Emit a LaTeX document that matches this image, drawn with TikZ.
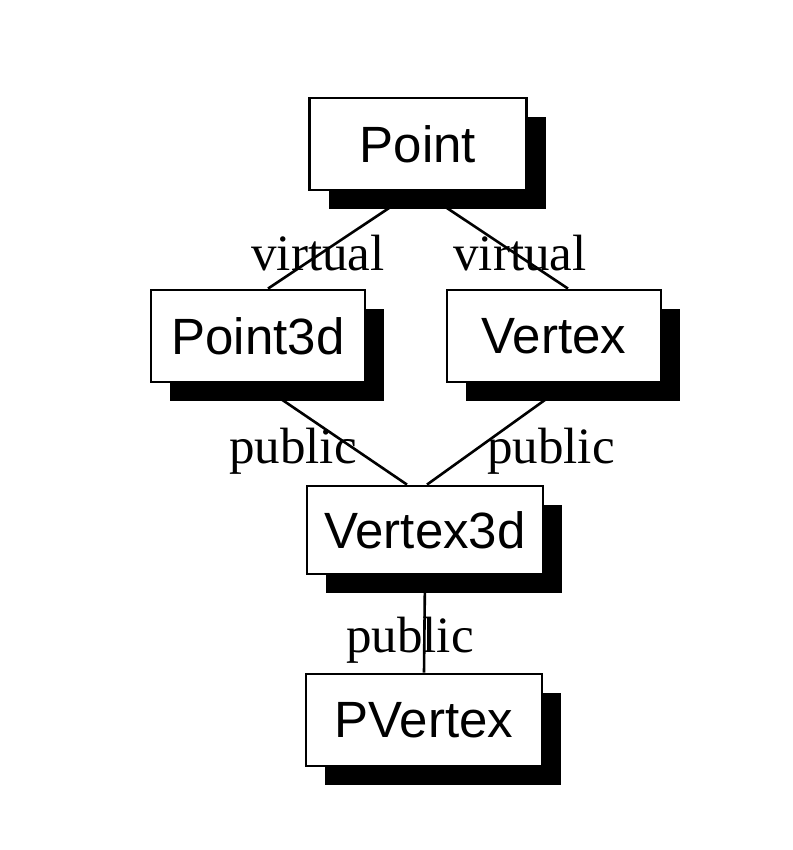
\documentclass[tikz,border=0pt]{standalone}
\usepackage{fontspec}
\setmainfont{Liberation Serif}
\newfontfamily\clsfont{Liberation Sans}
\usetikzlibrary{shadows,backgrounds}

\begin{document}
\begin{tikzpicture}[
  cls/.style={draw,line width=1.4pt,fill=white,minimum height=46pt,minimum width=107pt,inner sep=0pt,
    font=\clsfont\fontsize{25.5}{30}\selectfont,
    drop shadow={shadow xshift=9.5pt,shadow yshift=-9.5pt,fill=black,opacity=1}},
  widecls/.style={cls,minimum width=118pt},
  lbl/.style={anchor=base,inner sep=0pt,font=\fontsize{25.5}{30}\selectfont},
  link/.style={line width=1.3pt}
]
\useasboundingbox (0,0) rectangle (396pt,-425pt);
% class boxes
\node[cls,minimum width=108.5pt] (point) at (209pt,-72pt) {Point};
\node[cls] (point3d) at (129pt,-168pt) {Point3d};
\node[cls] (vertex) at (277pt,-168pt) {Vertex};
\node[widecls,minimum height=44pt] (vertex3d) at (212.5pt,-265pt) {Vertex3d};
\node[widecls] (pvertex) at (212pt,-360pt) {PVertex};
% inheritance labels
\node[lbl] (virtL) at (159pt,-135pt) {virtual};
\node[lbl] (virtR) at (260pt,-135pt) {virtual};
\node[lbl] (pubL) at (146.5pt,-231.5pt) {public};
\node[lbl] (pubR) at (275.5pt,-231.5pt) {public};
\node[lbl] (pubB) at (205pt,-326pt) {public};
% links, behind the boxes
\begin{scope}[on background layer]
\draw[link] ([xshift=-2pt]point.south) -- ([xshift=5pt]point3d.north);
\draw[link] ([xshift=2pt]point.south) -- ([xshift=7pt]vertex.north);
\draw[link] (point3d.south) -- ([xshift=-9pt]vertex3d.north);
\draw[link] ([xshift=7pt]vertex.south) -- ([xshift=1pt]vertex3d.north);
\draw[link] (vertex3d.south) -- (pvertex.north);
\end{scope}
\end{tikzpicture}
\end{document}
